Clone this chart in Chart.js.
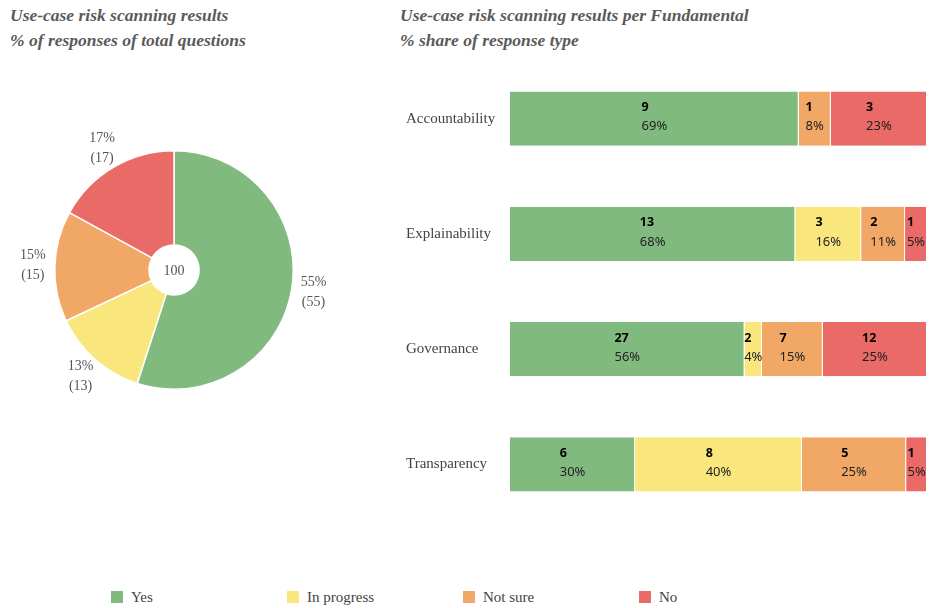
<!DOCTYPE html>
<html>
<head>
<meta charset="utf-8">
<script src="https://cdn.jsdelivr.net/npm/chart.js@4.4.1/dist/chart.umd.min.js"></script>
<style>
  body { margin: 0; background: #fff; width: 931px; height: 608px; position: relative; overflow: hidden; }
  .title { position: absolute; font-family: "Liberation Serif", serif; font-style: italic; font-weight: bold;
           font-size: 17.5px; line-height: 25px; color: #5a5a5a; }
  #pieBox { position: absolute; left: 0px; top: 96px; width: 348px; height: 348px; }
  #barBox { position: absolute; left: 400px; top: 49px; width: 531px; height: 485px; }
  #legend { position: absolute; top: 588px; left: 0; width: 931px; height: 20px; }
  .item { position: absolute; top: 0; font-family: "Liberation Serif", serif; font-size: 15px; color: #444; line-height: 18px; }
  .sw { display: inline-block; width: 12px; height: 12px; margin-right: 8px; vertical-align: -1px; }
</style>
</head>
<body>
<div class="title" style="left:10px; top:3px;">Use-case risk scanning results<br>% of responses of total questions</div>
<div class="title" style="left:400px; top:3px;">Use-case risk scanning results per Fundamental<br>% share of response type</div>
<div id="pieBox"><canvas id="pie"></canvas></div>
<div id="barBox"><canvas id="bar"></canvas></div>
<div id="legend"></div>
<script>
const responseTypes = ['Yes', 'In progress', 'Not sure', 'No'];
const colors = ['#80ba7f', '#f9e67c', '#f1a765', '#e96a66'];

const pieValues = [55, 13, 15, 17];

const fundamentals = ['Accountability', 'Explainability', 'Governance', 'Transparency'];
const yesCounts = [9, 13, 27, 6];
const inProgressCounts = [0, 3, 2, 8];
const notSureCounts = [1, 2, 7, 5];
const noCounts = [3, 1, 12, 1];

const countSeries = [yesCounts, inProgressCounts, notSureCounts, noCounts];
const totals = fundamentals.map((f, i) => countSeries.reduce((s, c) => s + c[i], 0));
const pieTotal = pieValues.reduce((a, b) => a + b, 0);

// legend
const legendX = [111, 287, 463, 639];
const legend = document.getElementById('legend');
responseTypes.forEach((t, i) => {
    const d = document.createElement('div');
    d.className = 'item';
    d.style.left = legendX[i] + 'px';
    d.innerHTML = '<span class="sw" style="background:' + colors[i] + '"></span>' + t;
    legend.appendChild(d);
});

// pie labels outside + center total
const pieLabels = {
    id: 'pieLabels',
    afterDraw(chart) {
        const ctx = chart.ctx;
        const meta = chart.getDatasetMeta(0);
        ctx.save();
        ctx.font = '14px "Liberation Serif", serif';
        ctx.fillStyle = '#555';
        ctx.textAlign = 'center';
        ctx.textBaseline = 'middle';
        meta.data.forEach((arc, i) => {
            const mid = (arc.startAngle + arc.endAngle) / 2;
            const r = arc.outerRadius + 22;
            const x = arc.x + Math.cos(mid) * r;
            const y = arc.y + Math.sin(mid) * r;
            const v = pieValues[i];
            ctx.fillText(Math.round(v / pieTotal * 100) + '%', x, y - 10);
            ctx.fillText('(' + v + ')', x, y + 10);
        });
        const a = meta.data[0];
        ctx.fillText(String(pieTotal), a.x, a.y + 1);
        ctx.restore();
    }
};

new Chart(document.getElementById('pie'), {
    type: 'doughnut',
    data: {
        labels: responseTypes,
        datasets: [{
            data: pieValues,
            backgroundColor: colors,
            borderColor: '#fff',
            borderWidth: 1.5
        }]
    },
    options: {
        responsive: true,
        maintainAspectRatio: false,
        animation: false,
        cutout: '21%',
        layout: { padding: 54 },
        plugins: { legend: { display: false }, tooltip: { enabled: false } }
    },
    plugins: [pieLabels]
});

// count + percent labels inside bar segments
const barLabels = {
    id: 'barLabels',
    afterDatasetsDraw(chart) {
        const ctx = chart.ctx;
        ctx.save();
        ctx.textBaseline = 'middle';
        ctx.textAlign = 'left';
        const bold = 'bold 12.5px "Noto Sans", sans-serif';
        const plain = '13px "Noto Sans", sans-serif';
        chart.data.datasets.forEach((ds, di) => {
            const meta = chart.getDatasetMeta(di);
            meta.data.forEach((bar, i) => {
                const n = countSeries[di][i];
                if (!n) return;
                const pct = Math.round(n / totals[i] * 100) + '%';
                ctx.font = bold;
                const w1 = ctx.measureText(String(n)).width;
                ctx.font = plain;
                const w2 = ctx.measureText(pct).width;
                const cx = (bar.x + bar.base) / 2;
                const x0 = cx - Math.max(w1, w2) / 2;
                ctx.font = bold;
                ctx.fillStyle = '#000';
                ctx.fillText(String(n), x0, bar.y - 11);
                ctx.font = plain;
                ctx.fillStyle = '#222';
                ctx.fillText(pct, x0, bar.y + 8);
            });
        });
        ctx.restore();
    }
};

new Chart(document.getElementById('bar'), {
    type: 'bar',
    data: {
        labels: fundamentals,
        datasets: responseTypes.map((t, di) => ({
            label: t,
            data: countSeries[di].map((c, i) => c / totals[i] * 100),
            backgroundColor: colors[di],
            borderColor: '#fff',
            borderWidth: { right: 1, left: 0, top: 0, bottom: 0 },
            borderSkipped: false,
            categoryPercentage: 1,
            barPercentage: 0.47
        }))
    },
    options: {
        indexAxis: 'y',
        responsive: true,
        maintainAspectRatio: false,
        animation: false,
        layout: { padding: { left: 6, right: 4, top: 0, bottom: 0 } },
        scales: {
            x: { stacked: true, min: 0, max: 100, display: false },
            y: {
                stacked: true,
                grid: { display: false },
                border: { display: false },
                afterFit(scale) { scale.width = 104; },
                ticks: {
                    crossAlign: 'far',
                    color: '#444',
                    font: { family: '"Liberation Serif", serif', size: 15 }
                }
            }
        },
        plugins: { legend: { display: false }, tooltip: { enabled: false } }
    },
    plugins: [barLabels]
});
</script>
</body>
</html>
